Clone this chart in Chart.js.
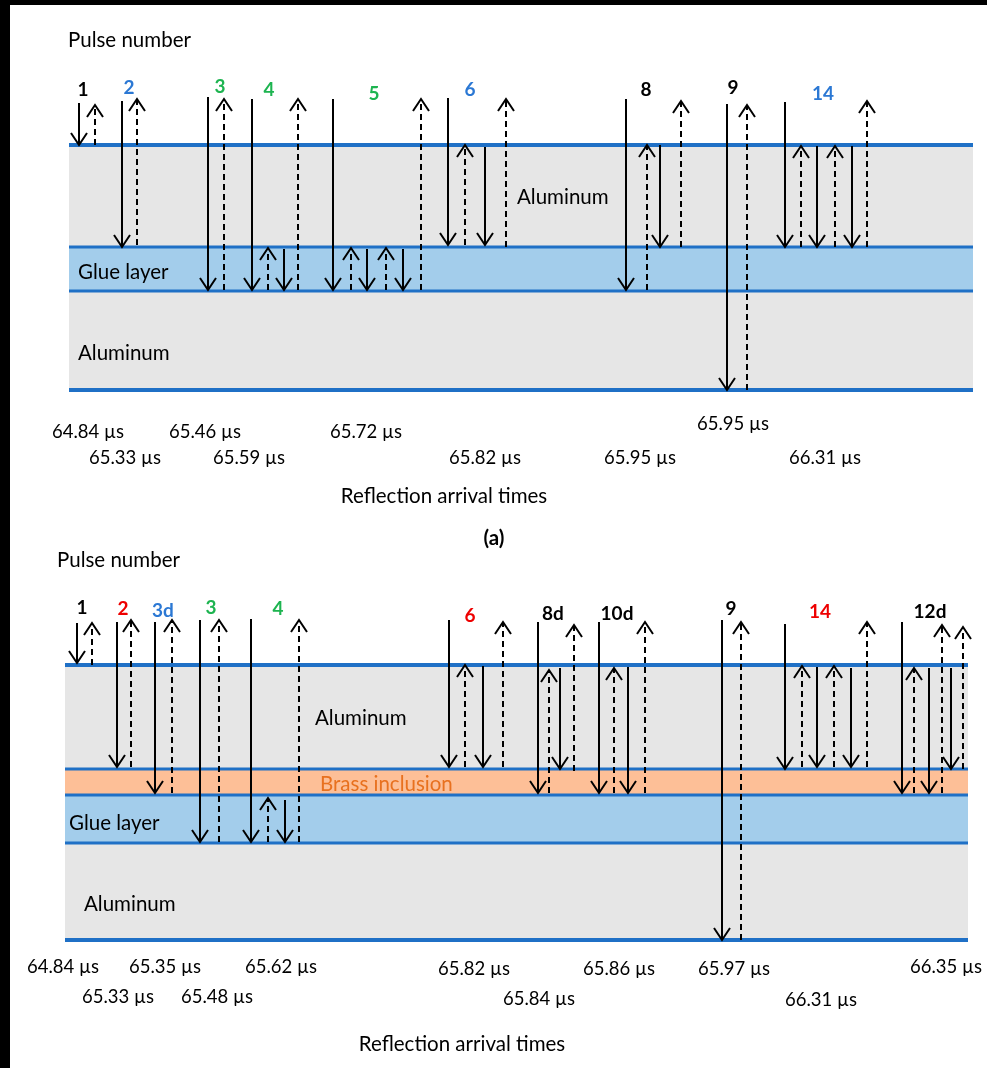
<!DOCTYPE html>
<html>
<head>
<meta charset="utf-8">
<script src="https://cdn.jsdelivr.net/npm/chart.js@4.4.1/dist/chart.umd.min.js"></script>
<style>
  html, body { margin: 0; padding: 0; background: #fff; }
  #wrap { position: relative; width: 987px; height: 1068px; }
  .edge { position: absolute; background: #000; }
</style>
</head>
<body>
<div id="wrap">
  <canvas id="diagram"></canvas>
  <div class="edge" style="left:0;top:0;width:10px;height:1068px"></div>
  <div class="edge" style="left:0;top:0;width:987px;height:5px"></div>
</div>
<script>
// ---- data (diagram units, y grows downward) ----

// layer stacks: [material, top, bottom]
const layersA = [['al', 145, 247], ['glue', 247, 291], ['al', 291, 390]];
const layersB = [['al', 665, 769], ['brass', 769, 795], ['glue', 795, 843], ['al', 843, 940]];
const spanA = [69, 973];
const spanB = [65, 968];
const interfacesA = [145, 247, 291, 390];
const interfacesB = [665, 769, 795, 843, 940];

// reflection paths: [x, from, to, dashed]
const arrowsA = [
  [79, 103, 145, 0], [95, 145, 105, 1],
  [122, 101, 247, 0], [137, 245, 99, 1],
  [208, 97, 290, 0], [224, 290, 99, 1],
  [252, 99, 290, 0], [268, 290, 248, 1], [284, 249, 290, 0], [298, 290, 99, 1],
  [333, 99, 290, 0], [351, 290, 248, 1], [367, 249, 290, 0], [386, 290, 248, 1], [403, 249, 290, 0], [421, 290, 99, 1],
  [448, 98, 245, 0], [465, 245, 145, 1], [485, 147, 245, 0], [506, 247, 99, 1],
  [626, 99, 290, 0], [647, 290, 145, 1], [660, 145, 247, 0], [681, 247, 101, 1],
  [727, 104, 390, 0], [747, 390, 105, 1],
  [785, 102, 247, 0], [801, 247, 146, 1], [817, 146, 247, 0], [835, 247, 146, 1], [852, 146, 247, 0], [867, 247, 101, 1]
];
const arrowsB = [
  [77, 623, 663, 0], [92, 665, 623, 1],
  [117, 622, 767, 0], [131, 767, 620, 1],
  [155, 622, 793, 0], [172, 793, 620, 1],
  [200, 620, 842, 0], [219, 842, 620, 1],
  [251, 619, 842, 0], [268, 842, 798, 1], [285, 800, 842, 0], [299, 842, 620, 1],
  [449, 620, 767, 0], [465, 767, 665, 1], [483, 666, 767, 0], [503, 767, 622, 1],
  [538, 622, 793, 0], [549, 793, 670, 1], [560, 668, 769, 0], [574, 771, 625, 1],
  [599, 622, 793, 0], [614, 793, 668, 1], [628, 667, 793, 0], [645, 793, 622, 1],
  [722, 620, 940, 0], [741, 940, 622, 1],
  [785, 624, 769, 0], [802, 767, 666, 1], [817, 667, 767, 0], [834, 767, 666, 1], [851, 668, 767, 0], [867, 767, 622, 1],
  [902, 622, 793, 0], [914, 793, 668, 1], [929, 668, 793, 0], [942, 793, 625, 1], [951, 668, 769, 0], [963, 769, 627, 1]
];

// pulse numbers: [text, x, y, colour key]
const pulsesA = [
  ['1', 83, 90, 'k'], ['2', 129, 88, 'b'], ['3', 220, 87, 'g'], ['4', 269, 90, 'g'], ['5', 374, 94, 'g'],
  ['6', 470, 90, 'b'], ['8', 646, 90, 'k'], ['9', 733, 88, 'k'], ['14', 823, 94, 'b']
];
const pulsesB = [
  ['1', 82, 608, 'k'], ['2', 123, 609, 'r'], ['3d', 163, 611, 'b'], ['3', 211, 608, 'g'], ['4', 278, 609, 'g'],
  ['6', 470, 616, 'r'], ['8d', 553, 614, 'k'], ['10d', 617, 614, 'k'], ['9', 731, 609, 'k'],
  ['14', 820, 612, 'r'], ['12d', 930, 612, 'k']
];

// arrival times: [label, x, y]
const timesA = [
  ['64.84 µs', 88, 432], ['65.46 µs', 205, 432], ['65.72 µs', 366, 432], ['65.95 µs', 733, 424],
  ['65.33 µs', 125, 458], ['65.59 µs', 249, 458], ['65.82 µs', 485, 458], ['65.95 µs', 640, 458], ['66.31 µs', 825, 458]
];
const timesB = [
  ['64.84 µs', 63, 967], ['65.35 µs', 165, 967], ['65.62 µs', 281, 967], ['65.82 µs', 474, 969],
  ['65.86 µs', 619, 969], ['65.97 µs', 734, 969], ['66.35 µs', 946, 967],
  ['65.33 µs', 118, 997], ['65.48 µs', 217, 997], ['65.84 µs', 539, 999], ['66.31 µs', 821, 1000]
];

// material names: [text, x, y, colour key]
const materialTags = [
  ['Aluminum', 517, 197, 'k'], ['Glue layer', 78, 272, 'k'], ['Aluminum', 78, 353, 'k'],
  ['Aluminum', 315, 718, 'k'], ['Brass inclusion', 320, 784, 'o'], ['Glue layer', 69, 823, 'k'], ['Aluminum', 84, 904, 'k']
];
// headings: [text, x, y, align, bold]
const headings = [
  ['Pulse number', 68, 40, 'left', 0], ['Reflection arrival times', 444, 496, 'center', 0], ['(a)', 494, 538, 'center', 1],
  ['Pulse number', 57, 560, 'left', 0], ['Reflection arrival times', 462, 1044, 'center', 0]
];

// ---- styles ----
const fills = { al: '#e6e6e6', glue: '#a3cdeb', brass: '#fdbf97' };
const inks = { k: '#000000', b: '#2b78d4', g: '#1db450', r: '#ee0000', o: '#e8711f' };
const lineBlue = '#1f70c6';
const FONT = 'Lato, "Open Sans", sans-serif';

// ---- datasets ----
const datasets = [];

function addLayers(layers, span) {
  layers.forEach(([mat, top, bottom]) => {
    datasets.push({
      data: [{ x: span[0], y: top }, { x: span[1], y: top }],
      fill: { value: bottom },
      backgroundColor: fills[mat],
      borderWidth: 0,
      order: 3
    });
  });
}

function addInterfaces(levels, span) {
  levels.forEach((lvl, i) => {
    const outer = i === 0 || i === levels.length - 1;
    datasets.push({
      data: [{ x: span[0], y: lvl }, { x: span[1], y: lvl }],
      borderColor: lineBlue,
      borderWidth: outer ? 4 : 3,
      fill: false,
      order: 2
    });
  });
}

function addArrows(arrows) {
  arrows.forEach(([x, from, to, dashed]) => {
    datasets.push({
      data: [{ x: x, y: from }, { x: x, y: to }],
      borderColor: '#000',
      borderWidth: 2,
      borderDash: dashed ? [6, 4] : [],
      fill: false,
      order: 1
    });
    const dir = to > from ? 1 : -1;
    datasets.push({
      data: [{ x: x - 8, y: to - dir * 12 }, { x: x, y: to }, { x: x + 8, y: to - dir * 12 }],
      borderColor: '#000',
      borderWidth: 2,
      fill: false,
      order: 0
    });
  });
}

addLayers(layersA, spanA);
addLayers(layersB, spanB);
addInterfaces(interfacesA, spanA);
addInterfaces(interfacesB, spanB);
addArrows(arrowsA);
addArrows(arrowsB);

// text labels placed through the scales
const labelPlugin = {
  id: 'labels',
  afterDatasetsDraw(chart) {
    const { ctx, scales: { x, y } } = chart;
    ctx.save();
    ctx.textBaseline = 'middle';
    const put = (txt, vx, vy, font, color, align) => {
      ctx.font = font;
      ctx.fillStyle = color;
      ctx.textAlign = align;
      ctx.fillText(txt, x.getPixelForValue(vx), y.getPixelForValue(vy));
    };
    pulsesA.concat(pulsesB).forEach(([t, px, py, c]) => put(t, px, py, 'bold 19px ' + FONT, inks[c], 'center'));
    timesA.concat(timesB).forEach(([t, px, py]) => put(t, px, py, '18.5px ' + FONT, '#000', 'center'));
    materialTags.forEach(([t, px, py, c]) => put(t, px, py, '20.5px ' + FONT, inks[c], 'left'));
    headings.forEach(([t, px, py, al, b]) => put(t, px, py, (b ? 'bold ' : '') + '20.5px ' + FONT, '#000', al));
    ctx.restore();
  }
};

new Chart(document.getElementById('diagram'), {
  type: 'line',
  data: { datasets: datasets },
  options: {
    responsive: true,
    maintainAspectRatio: false,
    animation: false,
    events: [],
    layout: { padding: 0 },
    elements: {
      point: { radius: 0 },
      line: { tension: 0, borderCapStyle: 'butt', borderJoinStyle: 'miter' }
    },
    scales: {
      x: { type: 'linear', min: 0, max: 987, display: false },
      y: { type: 'linear', min: 0, max: 1068, reverse: true, display: false }
    },
    plugins: {
      legend: { display: false },
      tooltip: { enabled: false }
    }
  },
  plugins: [labelPlugin]
});
</script>
</body>
</html>
